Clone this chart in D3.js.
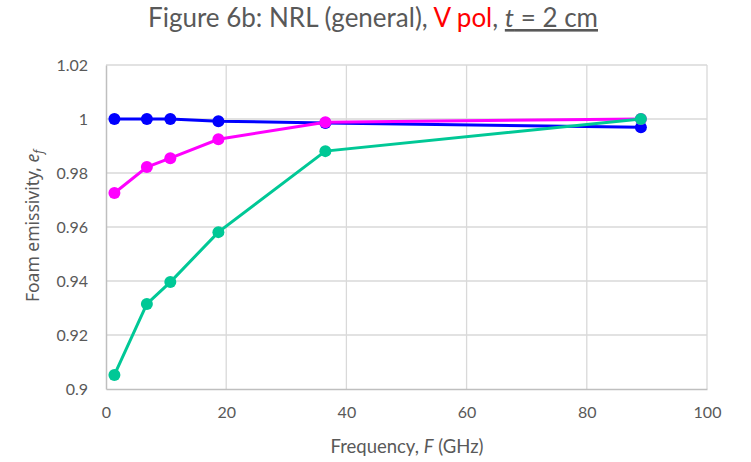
<!DOCTYPE html>
<html><head><meta charset="utf-8">
<script src="https://cdn.jsdelivr.net/npm/d3@7"></script>
<style>body{margin:0;background:#fff}svg{display:block}</style>
</head><body><svg id="c" width="751" height="462"></svg>
<script>
const frequencies = [1.4, 6.8, 10.7, 18.7, 36.5, 89];
const blueValues = [1.0, 1.0, 1.0, 0.9992, 0.9985, 0.9969];
const magentaValues = [0.9726, 0.9822, 0.9855, 0.9925, 0.9988, 1.0];
const tealValues = [0.9052, 0.9315, 0.9396, 0.9581, 0.9881, 1.0];
const xTicks = [0, 20, 40, 60, 80, 100];
const yTicks = [0.9, 0.92, 0.94, 0.96, 0.98, 1, 1.02];
const seriesColors = ["#0000ff", "#ff00ff", "#00c896"];

const svg = d3.select("#c");
const L = 106, R = 707, T = 65, B = 389;
const x = d3.scaleLinear().domain([0, 100]).range([L, R]);
const y = d3.scaleLinear().domain([0.9, 1.02]).range([B, T]);
const gray = "#595959";

// gridlines
svg.append("g").selectAll("line").data(yTicks.filter(d => d > 0.9)).join("line")
  .attr("x1", L).attr("x2", R).attr("y1", d => y(d)).attr("y2", d => y(d))
  .attr("stroke", "#d9d9d9").attr("stroke-width", 1.3);
svg.append("g").selectAll("line").data(xTicks.filter(d => d > 0)).join("line")
  .attr("x1", d => x(d)).attr("x2", d => x(d)).attr("y1", T).attr("y2", B)
  .attr("stroke", "#d9d9d9").attr("stroke-width", 1.3);

// axes
const xAxis = d3.axisBottom(x).tickValues(xTicks).tickSize(0).tickPadding(18).tickFormat(d3.format("d"));
const gx = svg.append("g").attr("transform", `translate(0,${B})`).call(xAxis);
gx.select(".domain").attr("stroke", "#bfbfbf").attr("stroke-width", 1.5);
gx.selectAll("text").attr("fill", gray).attr("font-size", 16).attr("font-family", "Lato, sans-serif");

const yAxis = d3.axisLeft(y).tickValues(yTicks).tickSize(0).tickPadding(18).tickFormat(d => String(+d.toFixed(2)));
const gy = svg.append("g").attr("transform", `translate(${L},0)`).call(yAxis);
gy.select(".domain").attr("stroke", "#bfbfbf").attr("stroke-width", 1.5);
gy.selectAll("text").attr("fill", gray).attr("font-size", 16).attr("font-family", "Lato, sans-serif");

// series
const allSeries = [blueValues, magentaValues, tealValues];
const line = d3.line().x((d, i) => x(frequencies[i])).y(d => y(d));
allSeries.forEach((vals, k) => {
  svg.append("path").datum(vals).attr("d", line).attr("fill", "none")
    .attr("stroke", seriesColors[k]).attr("stroke-width", 3);
  svg.append("g").selectAll("circle").data(vals).join("circle")
    .attr("cx", (d, i) => x(frequencies[i])).attr("cy", d => y(d)).attr("r", 6)
    .attr("fill", seriesColors[k]);
});

// title
const title = svg.append("text").attr("x", 373).attr("y", 27).attr("text-anchor", "middle")
  .attr("font-family", "Lato, sans-serif").attr("font-size", 26).attr("fill", gray);
title.append("tspan").text("Figure 6b: NRL (general), ");
title.append("tspan").attr("fill", "#ff0000").text("V pol");
title.append("tspan").text(", ");
const tpart = title.append("tspan").attr("text-decoration", "underline");
tpart.append("tspan").attr("font-style", "italic").text("t");
tpart.append("tspan").text(" = 2 cm");

// x axis title
const xt = svg.append("text").attr("x", 407).attr("y", 453).attr("text-anchor", "middle")
  .attr("font-family", "Lato, sans-serif").attr("font-size", 18.5).attr("fill", gray);
xt.append("tspan").text("Frequency, ");
xt.append("tspan").attr("font-style", "italic").text("F");
xt.append("tspan").text(" (GHz)");

// y axis title
const yt = svg.append("text").attr("transform", "translate(39,226) rotate(-90)").attr("text-anchor", "middle")
  .attr("font-family", "'Noto Sans', sans-serif").attr("font-size", 17.5).attr("fill", gray);
yt.append("tspan").text("Foam emissivity, ");
yt.append("tspan").attr("font-style", "italic").text("e");
yt.append("tspan").attr("font-style", "italic").attr("font-size", 12).attr("dy", 4).text("f");
</script></body></html>
